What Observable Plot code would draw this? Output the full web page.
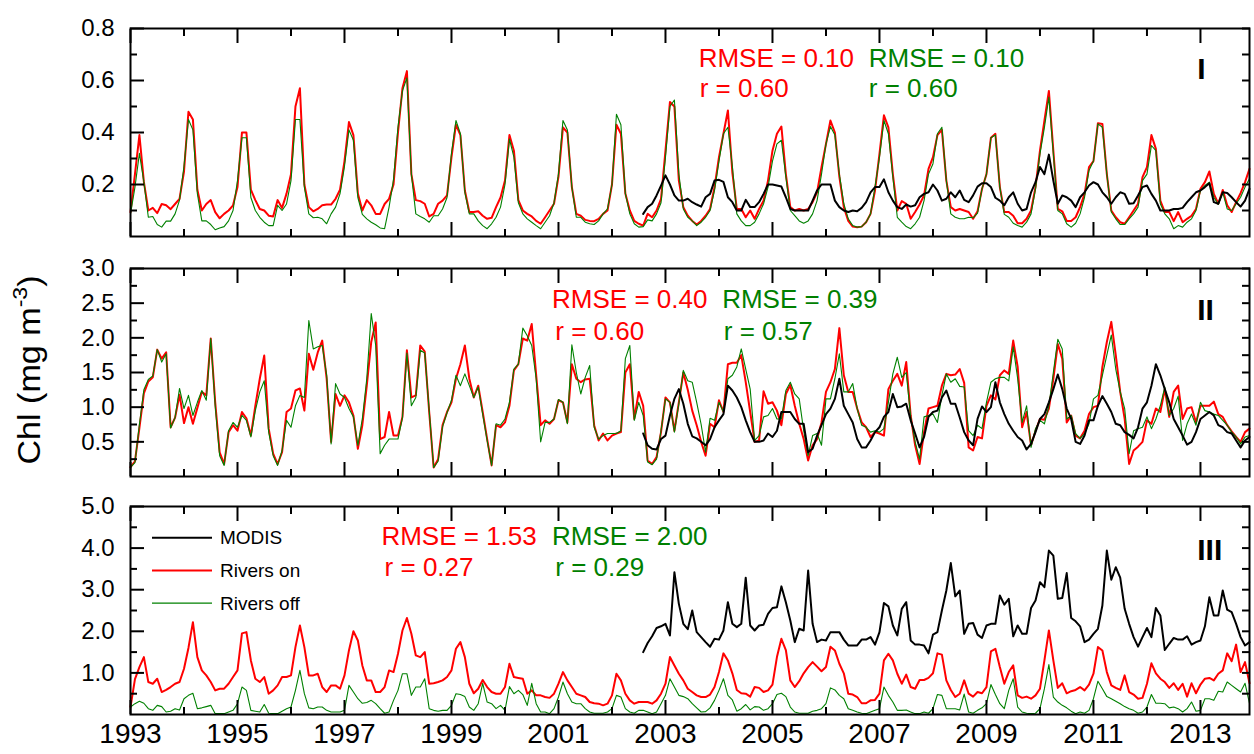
<!DOCTYPE html>
<html><head><meta charset="utf-8">
<script src="https://cdn.jsdelivr.net/npm/d3@7"></script>
<script src="https://cdn.jsdelivr.net/npm/@observablehq/plot@0.6"></script>
<style>
body{margin:0;background:#fff;}
#chart{position:relative;width:1254px;height:754px;font-family:"Liberation Sans",Arial,sans-serif;}
#chart svg{position:absolute;left:0;overflow:visible;}
</style></head><body><div id="chart"></div>
<script>
// ---------- data ----------
const startYear = 1993;
const modisStartIndex = 115; // first MODIS month (Aug 2002), months counted from Jan 1993

// Panel I
const p1Red = [
0.094,0.24,0.39,0.21,0.1,0.11,0.09,0.125,0.12,0.105,0.125,0.145,
0.25,0.48,0.45,0.18,0.1,0.125,0.14,0.094,0.07,0.087,0.1,0.12,
0.19,0.40,0.40,0.18,0.14,0.106,0.1,0.08,0.077,0.14,0.11,0.165,
0.24,0.50,0.57,0.2,0.113,0.097,0.106,0.12,0.123,0.123,0.145,0.18,
0.29,0.44,0.39,0.165,0.1,0.14,0.12,0.087,0.087,0.125,0.145,0.2,
0.4,0.57,0.636,0.24,0.14,0.136,0.126,0.077,0.087,0.126,0.138,0.158,
0.305,0.43,0.39,0.177,0.094,0.094,0.097,0.08,0.068,0.072,0.113,0.15,
0.215,0.39,0.33,0.14,0.1,0.087,0.077,0.06,0.049,0.074,0.1,0.126,
0.23,0.42,0.4,0.19,0.087,0.08,0.064,0.06,0.059,0.068,0.087,0.1,
0.2,0.43,0.395,0.165,0.1,0.06,0.049,0.042,0.087,0.074,0.1,0.145,
0.33,0.517,0.5,0.215,0.113,0.08,0.06,0.046,0.06,0.08,0.106,0.19,
0.305,0.395,0.485,0.246,0.106,0.106,0.074,0.1,0.068,0.106,0.138,0.215,
0.33,0.395,0.423,0.24,0.113,0.1,0.106,0.1,0.106,0.132,0.17,0.267,
0.356,0.446,0.4,0.23,0.113,0.06,0.038,0.036,0.038,0.055,0.087,0.177,
0.318,0.466,0.42,0.24,0.1,0.136,0.126,0.068,0.094,0.123,0.158,0.26,
0.305,0.39,0.41,0.215,0.113,0.1,0.106,0.1,0.094,0.068,0.097,0.183,
0.24,0.38,0.395,0.19,0.094,0.094,0.08,0.051,0.051,0.068,0.1,0.19,
0.33,0.446,0.56,0.33,0.106,0.097,0.06,0.06,0.074,0.113,0.164,0.267,
0.29,0.436,0.433,0.24,0.1,0.074,0.055,0.049,0.074,0.1,0.126,0.228,
0.267,0.39,0.337,0.138,0.094,0.094,0.059,0.094,0.055,0.068,0.08,0.106,
0.183,0.209,0.25,0.164,0.126,0.179,0.12,0.094,0.132,0.167,0.209,0.26];
const p1Green = [
0.087,0.19,0.32,0.21,0.074,0.077,0.046,0.036,0.059,0.059,0.087,0.14,
0.27,0.45,0.41,0.165,0.06,0.06,0.046,0.026,0.033,0.038,0.06,0.1,
0.215,0.38,0.38,0.15,0.1,0.074,0.055,0.042,0.042,0.12,0.1,0.125,
0.215,0.45,0.45,0.19,0.087,0.072,0.074,0.068,0.049,0.087,0.113,0.165,
0.27,0.41,0.37,0.15,0.085,0.068,0.055,0.045,0.033,0.03,0.113,0.22,
0.42,0.56,0.61,0.24,0.087,0.077,0.068,0.055,0.08,0.08,0.106,0.15,
0.32,0.446,0.395,0.17,0.087,0.087,0.06,0.042,0.03,0.049,0.074,0.113,
0.2,0.375,0.305,0.13,0.087,0.068,0.055,0.042,0.03,0.055,0.08,0.13,
0.24,0.446,0.41,0.19,0.074,0.074,0.055,0.049,0.046,0.06,0.087,0.106,
0.2,0.47,0.43,0.165,0.087,0.049,0.036,0.038,0.064,0.06,0.087,0.13,
0.305,0.5,0.525,0.24,0.106,0.074,0.06,0.042,0.055,0.074,0.1,0.177,
0.29,0.395,0.42,0.27,0.087,0.06,0.042,0.042,0.055,0.087,0.126,0.19,
0.29,0.356,0.37,0.23,0.1,0.08,0.06,0.051,0.06,0.087,0.138,0.24,
0.356,0.423,0.39,0.24,0.126,0.068,0.042,0.036,0.038,0.055,0.087,0.19,
0.305,0.446,0.395,0.23,0.074,0.055,0.038,0.03,0.049,0.074,0.138,0.24,
0.28,0.395,0.42,0.215,0.087,0.074,0.068,0.068,0.074,0.072,0.09,0.183,
0.24,0.38,0.39,0.19,0.085,0.074,0.051,0.042,0.036,0.055,0.087,0.183,
0.318,0.42,0.536,0.318,0.1,0.087,0.049,0.036,0.051,0.087,0.151,0.254,
0.29,0.433,0.42,0.24,0.094,0.068,0.046,0.046,0.068,0.087,0.113,0.215,
0.24,0.35,0.33,0.126,0.087,0.068,0.03,0.042,0.036,0.055,0.068,0.1,
0.177,0.196,0.209,0.151,0.123,0.17,0.106,0.1,0.126,0.151,0.19,0.222];
const p1Modis = [
0.087,0.113,0.126,0.158,0.196,
0.235,0.2,0.158,0.138,0.138,0.145,0.132,0.123,0.115,0.151,0.164,0.215,
0.218,0.21,0.151,0.132,0.1,0.1,0.141,0.113,0.113,0.132,0.164,0.2,
0.2,0.196,0.192,0.151,0.106,0.1,0.1,0.1,0.1,0.138,0.177,0.2,
0.2,0.2,0.138,0.113,0.1,0.094,0.1,0.097,0.11,0.132,0.17,0.19,
0.19,0.22,0.17,0.138,0.113,0.106,0.123,0.115,0.12,0.151,0.164,0.17,
0.2,0.177,0.138,0.145,0.17,0.151,0.177,0.141,0.132,0.158,0.192,0.205,
0.205,0.19,0.149,0.138,0.12,0.151,0.17,0.126,0.1,0.106,0.17,0.209,
0.267,0.24,0.315,0.215,0.126,0.158,0.151,0.138,0.113,0.151,0.17,0.196,
0.209,0.2,0.17,0.151,0.126,0.151,0.17,0.164,0.126,0.128,0.158,0.19,
0.196,0.164,0.138,0.1,0.1,0.1,0.106,0.106,0.11,0.132,0.151,0.17,
0.177,0.19,0.205,0.132,0.126,0.17,0.167,0.151,0.132,0.115,0.138,0.183];

// Panel II
const p2Red = [
0.135,0.22,0.7,1.2,1.37,1.43,1.83,1.70,1.79,0.71,0.85,1.18,
0.77,1.0,0.76,0.99,1.22,1.17,1.99,1.07,0.35,0.18,0.64,0.74,
0.66,0.93,0.84,0.59,1.02,1.41,1.745,0.69,0.33,0.18,0.35,0.93,
0.98,1.24,1.27,0.95,1.77,1.54,1.79,1.96,1.41,0.5,1.19,1.02,
1.17,1.07,0.88,0.4,0.74,1.31,1.94,2.22,0.54,0.57,0.93,0.59,
0.59,0.86,1.82,1.14,1.17,1.89,1.8,0.93,0.13,0.25,0.74,0.93,
1.07,1.41,1.62,1.89,1.41,1.14,1.31,0.93,0.54,0.16,0.74,0.71,
0.78,1.02,1.53,1.62,1.99,1.96,2.2,1.46,0.74,0.81,0.76,0.83,
1.1,1.07,0.78,1.62,1.41,1.36,1.4,1.41,0.74,0.52,0.62,0.52,
0.59,0.62,0.64,1.5,1.62,0.83,1.22,1.02,0.23,0.18,0.28,0.64,
1.14,1.07,0.66,1.07,1.5,1.25,0.95,0.74,0.5,0.3,0.76,0.71,
1.1,0.93,1.62,1.64,1.64,1.75,1.36,0.93,0.5,0.52,1.23,1.05,
1.07,0.95,0.74,1.19,1.32,1.02,0.76,0.54,0.23,0.45,0.54,0.78,
1.22,1.36,1.55,2.14,1.46,1.22,1.22,0.98,0.78,0.71,0.57,0.64,
0.62,0.59,1.26,1.38,1.48,1.31,1.65,0.88,0.45,0.18,0.64,0.98,
1.0,1.02,1.31,1.48,1.46,1.47,1.55,1.35,0.42,0.375,0.57,0.55,
1.02,1.17,1.11,1.46,1.53,1.48,1.96,1.58,0.71,0.93,0.45,0.66,
0.83,0.82,0.98,1.41,1.91,1.7,0.78,0.88,0.59,0.55,0.66,0.9,
1.0,1.02,1.58,1.94,2.23,1.75,1.22,0.83,0.18,0.375,0.43,0.5,
0.81,0.76,0.98,0.93,1.26,0.86,1.22,1.31,0.83,0.98,1.0,0.78,
1.02,1.02,1.02,1.08,0.9,0.86,0.74,0.65,0.57,0.5,0.64,0.69];
const p2Green = [
0.13,0.2,0.75,1.25,1.4,1.45,1.83,1.65,1.77,0.7,0.85,1.27,
0.98,1.17,0.88,1.07,1.24,1.1,1.99,1.02,0.3,0.16,0.66,0.78,
0.71,0.88,0.81,0.57,0.95,1.22,1.38,0.64,0.3,0.16,0.375,0.81,
0.71,1.02,1.17,1.14,2.25,1.84,1.87,1.89,1.46,0.47,1.34,1.19,
1.14,0.98,0.86,0.45,0.83,1.41,2.35,1.89,0.33,0.45,0.54,0.54,
0.54,0.85,1.78,1.02,1.14,1.82,1.78,0.95,0.13,0.22,0.72,0.92,
1.1,1.46,1.31,1.48,1.31,1.14,1.29,0.9,0.52,0.16,0.76,0.74,
0.83,1.07,1.55,1.62,2.14,2.03,1.89,1.41,0.5,0.78,0.78,0.83,
1.11,1.07,0.76,1.9,1.5,1.19,1.43,1.6,0.71,0.54,0.59,0.62,
0.62,0.62,0.66,1.7,1.89,0.81,1.07,0.88,0.21,0.17,0.25,0.66,
1.12,1.07,0.64,1.05,1.53,1.38,1.36,1.07,0.75,0.35,0.84,0.81,
1.07,0.93,1.41,1.46,1.58,1.84,1.55,1.26,0.52,0.59,0.86,0.88,
0.98,0.83,0.83,1.24,1.36,1.19,1.12,0.66,0.3,0.59,0.62,0.45,
1.12,1.12,1.41,1.77,1.22,1.22,1.34,0.98,0.74,0.71,0.64,0.66,
0.64,0.69,1.07,1.48,1.72,1.43,1.5,0.86,0.5,0.25,0.86,0.88,
0.9,0.78,1.17,1.48,1.36,1.41,1.3,1.29,0.66,0.59,0.74,0.69,
1.07,1.36,1.41,1.43,1.43,1.38,1.87,1.41,0.78,1.02,0.42,0.69,
0.81,0.76,1.02,1.5,1.98,1.84,0.83,0.88,0.62,0.55,0.62,0.76,
1.12,1.17,1.46,1.75,2.04,1.55,1.22,0.98,0.33,0.66,0.69,0.71,
0.86,0.69,0.83,1.02,1.29,0.88,0.98,1.16,0.52,0.76,0.9,0.74,
1.07,0.95,0.93,0.9,0.88,0.81,0.74,0.64,0.57,0.47,0.57,0.59];
const p2Modis = [
0.62,0.45,0.4,0.39,0.54,
0.59,0.88,1.12,1.26,1.05,0.76,0.58,0.55,0.5,0.45,0.54,0.71,
0.81,0.9,1.31,1.24,1.14,1.0,0.81,0.64,0.5,0.5,0.52,0.62,
0.57,0.66,0.93,0.93,0.93,0.83,0.76,0.76,0.35,0.4,0.59,0.74,
0.9,0.98,1.12,1.41,1.02,0.9,0.78,0.54,0.42,0.42,0.52,0.64,
0.71,0.86,0.93,1.19,1.0,1.01,1.05,0.81,0.62,0.42,0.57,0.86,
0.93,0.95,1.14,1.24,1.05,1.05,0.85,0.64,0.52,0.45,0.83,1.01,
0.93,1.0,1.36,1.07,0.9,0.76,0.66,0.57,0.52,0.39,0.47,0.64,
0.83,0.9,1.07,1.26,1.47,1.26,0.98,0.83,0.5,0.47,0.59,0.81,
0.81,1.02,1.16,1.05,0.93,0.76,0.74,0.64,0.6,0.55,0.71,0.98,
1.07,1.31,1.62,1.46,1.26,1.07,0.83,0.71,0.59,0.46,0.5,0.64,
0.83,0.88,0.93,0.88,0.74,0.71,0.64,0.62,0.52,0.42,0.52,0.57];

// Panel III
const p3Red = [
0.18,0.85,1.14,1.38,0.78,0.74,0.86,0.54,0.59,0.66,0.74,0.78,
1.1,1.6,2.22,1.38,1.06,0.94,0.78,0.58,0.62,0.62,0.74,0.9,
1.06,1.95,1.98,1.3,0.86,0.78,0.9,0.5,0.58,0.7,0.9,0.9,
0.94,1.62,2.14,1.62,0.94,0.94,0.98,0.66,0.54,0.7,0.7,0.62,
0.94,1.54,2.0,1.78,1.18,0.82,0.82,0.54,0.54,0.66,1.06,1.02,
1.46,2.02,2.32,1.94,1.42,1.38,1.5,0.74,0.75,0.78,0.82,0.9,
1.06,1.58,1.74,1.38,0.74,0.51,0.62,0.83,0.66,0.54,0.5,0.5,
0.66,1.22,0.9,0.88,0.86,0.5,0.58,0.46,0.46,0.42,0.4,0.5,
0.74,1.02,0.82,0.66,0.5,0.46,0.42,0.3,0.27,0.26,0.22,0.26,
0.46,0.98,0.82,0.5,0.34,0.26,0.3,0.3,0.3,0.26,0.34,0.5,
0.74,1.38,1.18,0.98,0.82,0.62,0.54,0.46,0.42,0.42,0.48,0.66,
1.02,1.47,1.3,0.99,0.59,0.51,0.5,0.43,0.66,0.64,0.54,0.58,
0.72,1.38,1.82,1.55,0.82,0.66,0.8,0.99,1.14,1.26,1.15,1.04,
1.14,1.63,1.54,1.22,0.99,0.5,0.48,0.42,0.27,0.27,0.34,0.35,
0.5,1.3,1.46,1.3,0.98,0.74,0.96,0.66,0.62,0.83,0.83,0.88,
0.99,1.47,1.44,0.82,0.59,0.42,0.5,0.82,0.5,0.43,0.54,0.51,
0.66,1.52,1.58,1.14,0.74,1.02,1.18,0.46,0.4,0.43,0.38,0.46,
0.62,1.3,2.02,1.3,0.64,0.75,0.51,0.56,0.59,0.66,0.58,0.72,
0.98,1.62,1.54,1.02,0.7,0.64,0.59,0.94,0.54,0.48,0.38,0.4,
0.74,1.23,0.99,0.86,0.78,0.64,0.75,0.59,0.74,0.43,0.75,0.51,
0.72,0.86,0.88,0.82,0.98,1.06,1.47,1.28,1.68,1.02,1.26,0.75];
const p3Green = [
0.18,0.26,0.32,0.27,0.14,0.1,0.22,0.19,0.06,0.08,0.14,0.11,
0.38,0.46,0.51,0.14,0.16,0.19,0.22,0.02,0.02,0.02,0.06,0.1,
0.26,0.66,0.58,0.1,0.08,0.06,0.24,0.03,0.02,0.02,0.08,0.14,
0.18,0.58,1.06,0.5,0.16,0.14,0.18,0.18,0.1,0.06,0.06,0.06,
0.1,0.7,0.54,0.38,0.27,0.29,0.34,0.26,0.14,0.03,0.06,0.34,
0.58,0.98,0.98,0.46,0.66,0.66,0.86,0.14,0.1,0.08,0.1,0.1,
0.22,0.5,0.48,0.43,0.18,0.1,0.26,0.75,0.3,0.26,0.14,0.22,
0.1,0.67,0.5,0.58,0.48,0.22,0.75,0.26,0.06,0.06,0.02,0.14,
0.42,0.78,0.5,0.3,0.26,0.26,0.14,0.06,0.03,0.03,0.03,0.06,
0.14,0.46,0.42,0.14,0.06,0.03,0.1,0.1,0.06,0.02,0.06,0.26,
0.46,0.86,0.66,0.46,0.43,0.38,0.26,0.16,0.06,0.07,0.16,0.34,
0.58,0.86,0.46,0.35,0.08,0.14,0.24,0.11,0.19,0.18,0.1,0.14,
0.26,0.48,0.51,0.43,0.18,0.06,0.03,0.03,0.03,0.08,0.1,0.14,
0.26,0.64,0.59,0.46,0.38,0.14,0.1,0.06,0.03,0.02,0.06,0.1,
0.14,0.66,0.46,0.3,0.1,0.1,0.11,0.06,0.02,0.02,0.06,0.03,
0.14,0.48,0.46,0.14,0.14,0.14,0.11,0.49,0.06,0.03,0.1,0.16,
0.26,0.72,0.48,0.26,0.14,0.58,0.86,0.18,0.06,0.03,0.02,0.03,
0.14,0.62,1.2,0.42,0.3,0.22,0.16,0.08,0.02,0.06,0.03,0.1,
0.38,0.8,0.62,0.43,0.38,0.32,0.26,0.19,0.14,0.1,0.03,0.06,
0.18,0.48,0.27,0.27,0.26,0.16,0.18,0.14,0.06,0.14,0.3,0.08,
0.1,0.38,0.38,0.34,0.56,0.54,0.78,0.7,0.62,0.54,0.75,0.27];
const p3Modis = [
1.5,1.72,1.88,2.08,2.12,
2.18,1.9,3.42,2.66,2.18,2.05,2.5,1.98,1.86,1.74,1.63,1.82,
1.8,2.02,2.7,2.18,2.1,2.18,3.29,2.14,2.02,2.14,2.16,2.42,
2.56,2.58,3.08,2.7,2.26,1.74,2.06,2.02,3.46,2.18,1.74,1.8,
1.78,1.98,1.98,1.98,1.8,1.66,1.66,1.66,1.8,1.8,1.86,1.68,
1.98,2.68,2.6,2.14,1.9,2.54,2.7,1.78,1.68,1.68,1.66,1.47,
1.92,1.98,2.5,2.98,3.64,2.84,2.98,1.94,2.18,2.2,1.92,1.84,
2.14,2.18,2.18,2.86,2.64,2.78,1.88,2.14,1.94,1.94,2.56,2.74,
3.18,3.06,3.94,3.82,2.78,2.8,3.4,2.32,2.24,2.12,1.74,1.8,
1.94,2.06,2.62,3.94,3.24,3.54,3.29,2.54,2.18,1.86,1.63,1.86,
2.08,1.86,2.56,2.38,1.55,1.7,1.84,1.8,1.8,1.88,1.68,1.74,
1.78,2.12,2.82,2.38,2.38,2.98,2.52,2.46,2.18,1.86,1.66,1.74];

// ticks
const yearLabels = [1993,1995,1997,1999,2001,2003,2005,2007,2009,2011,2013];
const yearMinor = [1994,1996,1998,2000,2002,2004,2006,2008,2010,2012];
const p1Ticks = [0.2,0.4,0.6,0.8], p1Minor = [0.1,0.3,0.5,0.7];
const p2Ticks = [0.5,1.0,1.5,2.0,2.5,3.0], p2Minor = [0.25,0.75,1.25,1.75,2.25,2.75];
const p3Ticks = [1,2,3,4,5], p3Minor = [0.5,1.5,2.5,3.5,4.5];

// statistics labels
const p1Stats = ["RMSE = 0.10","r = 0.60","RMSE = 0.10","r = 0.60"];
const p2Stats = ["RMSE = 0.40","r = 0.60","RMSE = 0.39","r = 0.57"];
const p3Stats = ["RMSE = 1.53","r = 0.27","RMSE = 2.00","r = 0.29"];
const seriesNames = ["MODIS","Rivers on","Rivers off"];
const yTitle = ["Chl (mg m", "-3", ")"];

// ---------- drawing ----------
const RED = "#ff0000", GREEN = "#008000", BLACK = "#000000";
const FONT = "Liberation Sans, Arial, Helvetica, sans-serif";
const xEnd = startYear + 251/12;
const toSeries = (vals, offset = 0) => vals.map((v, i) => ({x: startYear + (i + offset)/12, v}));

function panel(cfg) {
  const ax = {strokeWidth: 2, fill: null, label: null};
  const statsData = cfg.stats.map((t, k) => ({t, x: cfg.statX[k], y: cfg.statY[k], c: k < 2 ? RED : GREEN}));
  const marks = [
    Plot.lineY(toSeries(cfg.red), {x: "x", y: "v", stroke: RED, strokeWidth: 2}),
    Plot.lineY(toSeries(cfg.green), {x: "x", y: "v", stroke: GREEN, strokeWidth: 1.1}),
    Plot.lineY(toSeries(cfg.modis, modisStartIndex), {x: "x", y: "v", stroke: BLACK, strokeWidth: 2}),
    Plot.frame({stroke: BLACK, strokeWidth: 2}),
    Plot.axisY({ticks: cfg.major, anchor: "left", tickSize: 0, tickPadding: 16, tickFormat: d3.format(".1f"), fontSize: 24, label: null}),
    Plot.axisY({ticks: cfg.major, anchor: "left", tickSize: -14, ...ax}),
    Plot.axisY({ticks: cfg.minor, anchor: "left", tickSize: -7, ...ax}),
    Plot.axisY({ticks: cfg.major.concat(cfg.minor), anchor: "right", tickSize: -8, ...ax}),
    Plot.axisX({ticks: yearLabels, anchor: "top", tickSize: -14, ...ax}),
    Plot.axisX({ticks: yearMinor, anchor: "top", tickSize: -7, ...ax}),
    Plot.axisX({ticks: yearLabels, anchor: "bottom", tickSize: -14, ...ax}),
    Plot.axisX({ticks: yearMinor, anchor: "bottom", tickSize: -7, ...ax}),
    Plot.text(statsData, {x: "x", y: "y", text: "t", fill: "c", fontSize: 26, textAnchor: "start", lineAnchor: "middle"}),
    Plot.text([cfg.numeral], {x: cfg.numX, y: cfg.numY, text: d => d, fontSize: 30, fontWeight: "bold", textAnchor: "start", lineAnchor: "middle", fill: BLACK})
  ];
  if (cfg.xLabels) marks.push(Plot.axisX({ticks: yearLabels, anchor: "bottom", tickSize: 0, tickPadding: 9, tickFormat: d => String(d), fontSize: 28, label: null}));
  const svg = Plot.plot({
    width: 1254, height: cfg.height,
    marginLeft: 130, marginRight: 5, marginTop: cfg.mt, marginBottom: cfg.mb,
    style: {fontFamily: FONT, fontSize: "24px", background: "transparent", overflow: "visible", color: "black"},
    x: {domain: [startYear, xEnd], label: null},
    y: {domain: cfg.domain, label: null},
    marks
  });
  svg.style.top = cfg.top + "px";
  document.getElementById("chart").appendChild(svg);
  return svg;
}

const s1 = panel({red: p1Red, green: p1Green, modis: p1Modis, domain: [0, 0.8], major: p1Ticks, minor: p1Minor,
  top: 0, height: 252, mt: 28, mb: 16, stats: p1Stats,
  statX: [2003.62, 2003.64, 2006.80, 2006.80], statY: [0.685, 0.569, 0.685, 0.569],
  numeral: "I", numX: 2012.94, numY: 0.642});
const s2 = panel({red: p2Red, green: p2Green, modis: p2Modis, domain: [0, 3], major: p2Ticks, minor: p2Minor,
  top: 252, height: 240, mt: 16, mb: 16, stats: p2Stats,
  statX: [2000.88, 2000.94, 2004.06, 2004.09], statY: [2.553, 2.091, 2.553, 2.091],
  numeral: "II", numX: 2012.94, numY: 2.394});
const s3 = panel({red: p3Red, green: p3Green, modis: p3Modis, domain: [0, 5], major: p3Ticks, minor: p3Minor,
  top: 492, height: 262, mt: 14, mb: 40, stats: p3Stats,
  statX: [1997.69, 1997.75, 2000.88, 2000.94], statY: [4.28, 3.52, 4.28, 3.52],
  numeral: "III", numX: 2012.94, numY: 3.94, xLabels: true});

// legend inside panel III
const legColors = [BLACK, RED, GREEN], legWidths = [2, 2, 1.1];
const leg = d3.select(s3).append("g").attr("font-family", FONT).attr("font-size", 19).attr("text-anchor", "start");
seriesNames.forEach((name, k) => {
  const y = 45.7 + k * 32.7;
  leg.append("line").attr("x1", 152).attr("x2", 212).attr("y1", y).attr("y2", y)
    .attr("stroke", legColors[k]).attr("stroke-width", legWidths[k]);
  leg.append("text").attr("x", 220).attr("y", y).attr("dy", "0.35em")
    .attr("text-anchor", "start").attr("fill", BLACK).text(name);
});

// y-axis title (centred on panel II)
const yt = d3.select(s2).append("text")
  .attr("transform", "translate(40,118) rotate(-90) scale(1.1,1)")
  .attr("text-anchor", "middle").attr("font-family", FONT).attr("font-size", 31).attr("fill", BLACK);
yt.append("tspan").text(yTitle[0]);
yt.append("tspan").attr("dy", -13).attr("font-size", 21).text(yTitle[1]);
yt.append("tspan").attr("dy", 13).text(yTitle[2]);
</script></body></html>
